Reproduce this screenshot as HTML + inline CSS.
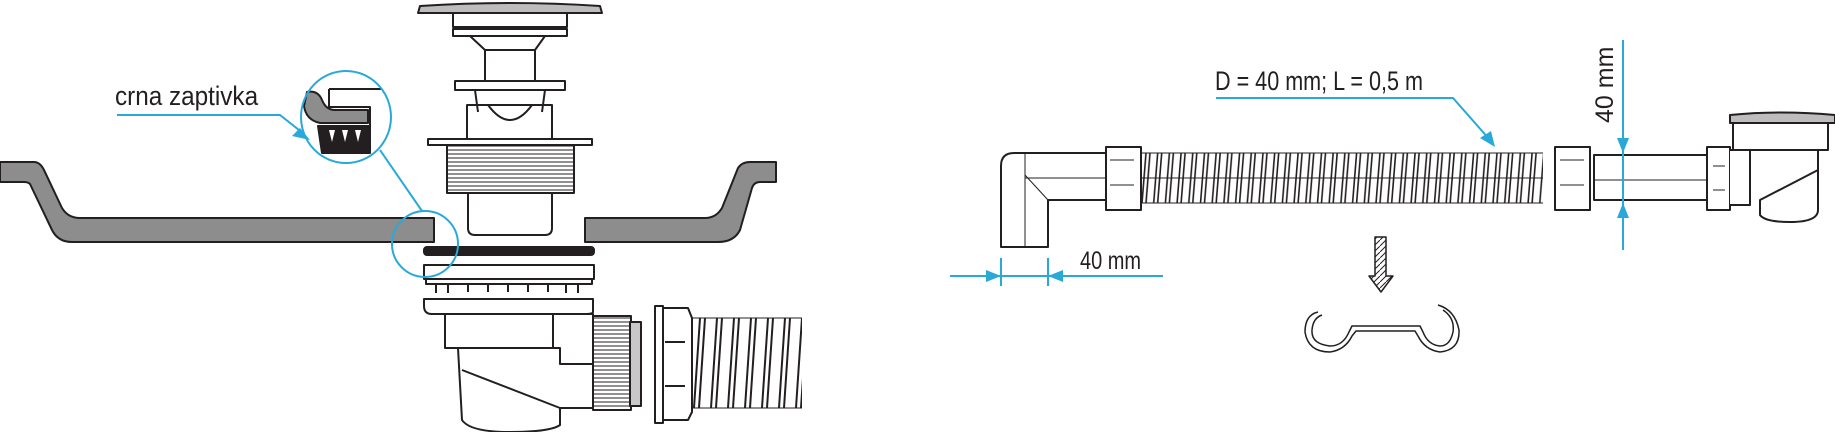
<!DOCTYPE html>
<html><head><meta charset="utf-8"><style>
html,body{margin:0;padding:0;background:#fff;}
svg{display:block;}
text{font-family:"Liberation Sans",sans-serif;fill:#231f20;}
</style></head><body>
<svg width="1835" height="432" viewBox="0 0 1835 432" xmlns="http://www.w3.org/2000/svg">
<defs>
<pattern id="coil" x="1141" y="153" width="11.7" height="50" patternUnits="userSpaceOnUse">
<path d="M5 0 L1 50 M9 0 L5 50" stroke="#231f20" stroke-width="1.6" fill="none"/>
</pattern>
<pattern id="coil2" x="692" y="318" width="17" height="90" patternUnits="userSpaceOnUse">
<path d="M8 0 L2 90 M13 0 L7 90" stroke="#231f20" stroke-width="2" fill="none"/>
</pattern>
<pattern id="thr" x="0" y="0" width="10" height="4" patternUnits="userSpaceOnUse">
<line x1="0" y1="2" x2="10" y2="2" stroke="#231f20" stroke-width="1"/>
</pattern>
<pattern id="hatch" x="0" y="0" width="6" height="6" patternUnits="userSpaceOnUse">
<line x1="0" y1="6" x2="6" y2="0" stroke="#231f20" stroke-width="1"/>
</pattern>
</defs>
<g stroke="#231f20" stroke-width="2" fill="#fff" stroke-linejoin="round">
<path d="M0 162 L34 162 Q40 162 44 170 L62 208 Q68 218 80 218 L434 218 L434 242 L72 242 Q58 242 52 230 L30 184 Q28 182 24 182 L0 182 Z" fill="#8d8d8d"/>
<path d="M585 218 L705 218 Q716 218 722 208 L738 168 Q742 162 750 162 L776 162 L776 182 L760 182 Q754 182 752 188 L740 230 Q734 242 718 242 L585 242 Z" fill="#8d8d8d"/>
<path d="M418 13 L420 6 Q510 0 600 6 L602 13 Z" fill="#bdbdbd"/>
<rect x="453" y="13" width="114" height="14" fill="#fff"/>
<rect x="453" y="29" width="114" height="7"/>
<path d="M470 36 L545 36 L535 50 L485 50 Z"/>
<rect x="485" y="50" width="50" height="31"/>
<rect x="455" y="81" width="110" height="9"/>
<path d="M467 105 L552 105 L552 140 L467 140 Z"/>
<path d="M488 105 Q510 135 532 105" fill="none"/>
<path d="M475 90 L478 112 M545 90 L542 112" fill="none"/>
<rect x="428" y="139" width="164" height="6"/>
<rect x="447" y="145" width="127" height="48" fill="url(#thr)"/>
<path d="M468 193 L552 193 L552 228 Q552 235 545 235 L475 235 Q468 235 468 228 Z"/>
<rect x="424" y="247" width="170" height="8" rx="3" fill="#231f20"/>
<rect x="424" y="265" width="170" height="14"/>
<rect x="426" y="279" width="166" height="5"/>
<g fill="none" stroke-width="2">
<path d="M436 284 v9 M448 284 v9 M468 284 v8 M488 284 v8 M508 284 v8 M528 284 v8 M548 284 v8 M566 284 v9 M578 284 v9"/>
</g>
<path d="M424 299 L593 299 L593 312 Q593 314 585 314 L432 314 Q424 314 424 306 Z"/>
<rect x="445" y="314" width="108" height="34"/>
<rect x="553" y="314" width="40" height="50"/>
<path d="M458 348 L560 348 L560 364 L593 364 L593 408 L560 408 L560 425 Q550 432 510 432 Q470 432 462 420 Z"/>
<path d="M462 370 L560 408" fill="none"/>
<rect x="593" y="316" width="38" height="94" fill="url(#thr)"/>
<rect x="630" y="322" width="11" height="84" fill="#c8c8c8"/>
<rect x="655" y="306" width="8" height="117"/>
<path d="M663 308 L688 308 L692 318 L692 412 L688 420 L663 420 Z"/>
<path d="M665 342 h20 M665 386 h20" fill="none"/>
<rect x="692" y="318" width="110" height="90" fill="url(#coil2)" stroke="none"/>
<path d="M692 318 L802 318 M692 408 L802 408" fill="none" stroke-width="1"/>
<path d="M329 89 L381 89 M329 89 L329 107 L370 107 L370 126" fill="none"/>
<path d="M307 92 Q318 90 322 100 Q326 110 335 110 L368 110 L368 123 L320 123 Q306 120 304 106 Z" fill="#8d8d8d"/>
<path d="M318 126 L370 126 L370 153 L322 153 Z" fill="#231f20"/>
<path d="M329 130 l3 12 l3 -12 Z M342 130 l3 12 l3 -12 Z M355 130 l3 12 l3 -12 Z" fill="#fff" stroke="none"/>
<path d="M1014 153 L1106 153 L1106 200 L1048 200 L1048 247 L1001 247 L1001 166 Q1001 153 1014 153 Z"/>
<path d="M1025 153 L1025 247 M1025 175 L1048 200 M1025 178 L1106 178" fill="none" stroke-width="1"/>
<rect x="1106" y="147" width="35" height="63"/>
<path d="M1110 160 h24 M1110 185 h24" fill="none" stroke-width="1"/>
<rect x="1141" y="153" width="402" height="50" fill="url(#coil)" stroke="none"/>
<path d="M1141 153 L1543 153 M1141 203 L1543 203 M1141 178 L1543 178" fill="none" stroke-width="1"/>
<rect x="1555" y="147" width="35" height="63"/>
<path d="M1560 160 h24 M1560 185 h24" fill="none" stroke-width="1"/>
<rect x="1594" y="155" width="113" height="45"/>
<path d="M1594 180 H1707" fill="none" stroke-width="1"/>
<rect x="1707" y="147" width="23" height="63"/>
<path d="M1713 166 h12 M1713 190 h12" fill="none" stroke-width="1"/>
<path d="M1730 115 Q1780 110 1835 115 L1835 123 L1730 123 Z" fill="#bdbdbd"/>
<rect x="1733" y="123" width="95" height="27"/>
<path d="M1735 150 L1818 150 L1818 170 L1760 200 L1760 215 Q1765 222 1790 222 Q1818 222 1818 210 L1818 170" />
<path d="M1730 150 L1750 150 L1750 205 L1730 205" fill="#fff"/>
<path d="M1318 312 Q1305 315 1305 332 Q1308 352 1330 352 Q1345 350 1352 336 L1356 331 L1415 331 L1418 336 Q1425 350 1440 352 Q1460 350 1459 330 Q1455 310 1438 305 M1443 310 Q1455 318 1453 332 Q1450 346 1440 346 Q1428 345 1423 332 L1420 326 L1352 326 L1349 332 Q1343 346 1330 346 Q1311 344 1312 330 Q1313 318 1322 315" fill="none" stroke-width="1.5"/>
<path d="M1375 237 L1386 237 L1386 276 L1393 276 L1381 292 L1369 276 L1375 276 Z" fill="url(#hatch)" stroke-width="1.5"/>
</g>
<g stroke="#29a9d8" stroke-width="2" fill="none">
<ellipse cx="346" cy="117" rx="45" ry="46"/>
<ellipse cx="425" cy="244" rx="33" ry="33"/>
<path d="M380 150 L422 211"/>
<path d="M117 115 L280 115 L304 134"/>
<path d="M1216 98 L1453 98 L1490 140"/>
<path d="M1623 40 L1623 250"/>
<path d="M950 276 L1163 276 M1001 258 L1001 286 M1048 258 L1048 286"/>
</g>
<g fill="#29a9d8">
<path d="M310 140 L292 136 L300 128 Z"/>
<path d="M1495 147 L1480 138 L1491 131 Z"/>
<path d="M1623 153 L1617 138 L1629 138 Z"/>
<path d="M1623 203 L1617 218 L1629 218 Z"/>
<path d="M1001 276 L986 270 L986 282 Z"/>
<path d="M1048 276 L1063 270 L1063 282 Z"/>
</g>
<text x="115" y="105" font-size="27" transform="translate(115 0) scale(0.9 1) translate(-115 0)">crna zaptivka</text>
<text x="1215" y="90" font-size="27" transform="translate(1215 0) scale(0.8 1) translate(-1215 0)">D = 40 mm; L = 0,5 m</text>
<text x="1080" y="269" font-size="25" transform="translate(1080 0) scale(0.8 1) translate(-1080 0)">40 mm</text>
<text x="0" y="0" font-size="25" transform="translate(1613 123) rotate(-90)">40 mm</text>
</svg>
</body></html>
